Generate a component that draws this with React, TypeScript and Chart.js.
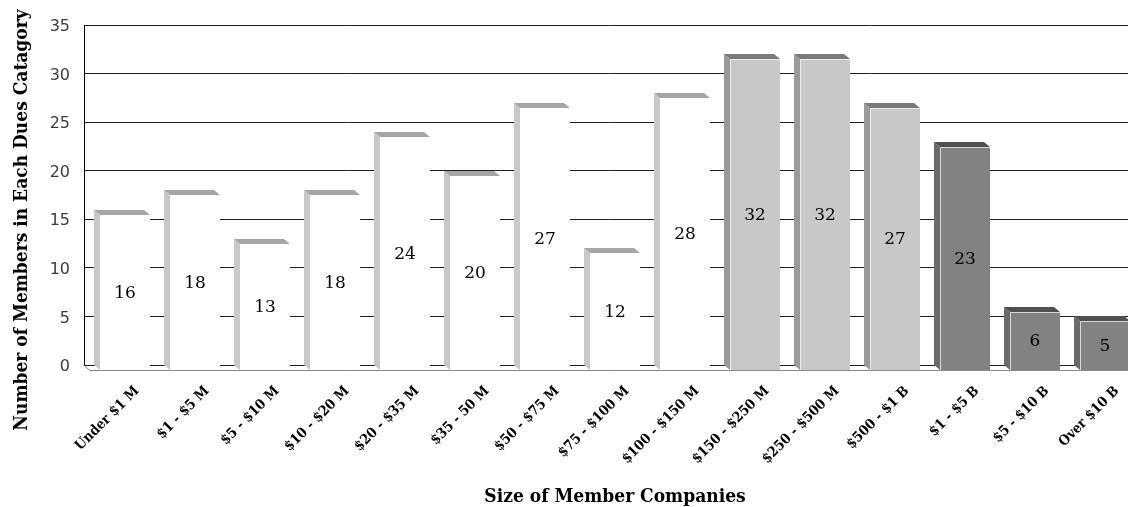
import React, { useEffect, useRef } from 'react';
import { Chart, registerables } from 'chart.js';
Chart.register(...registerables);

// ---- data ----
const categories = [
  'Under $1 M', '$1 - $5 M', '$5 - $10 M', '$10 - $20 M', '$20 - $35 M',
  '$35 - 50 M', '$50 - $75 M', '$75 - $100 M', '$100 - $150 M', '$150 - $250 M',
  '$250 - $500 M', '$500 - $1 B', '$1 - $5 B', '$5 - $10 B', 'Over $10 B',
];
const members = [16, 18, 13, 18, 24, 20, 27, 12, 28, 32, 32, 27, 23, 6, 5];
// size tier of each category: 0 = under $150 M, 1 = $150 M - $1 B, 2 = over $1 B
const tiers = [0, 0, 0, 0, 0, 0, 0, 0, 0, 1, 1, 1, 2, 2, 2];
const yMin = 0;
const yMax = 35;
const yStep = 5;
const xTitle = 'Size of Member Companies';
const yTitle = 'Number of Members in Each Dues Catagory';

// ---- styles ----
const palette = [
  { front: '#ffffff', side: '#c8c8c8', top: '#a6a6a6', edge: null },
  { front: '#c8c8c8', side: '#9a9a9a', top: '#7a7a7a', edge: '#ececec' },
  { front: '#828282', side: '#6a6a6a', top: '#505050', edge: '#d8d8d8' },
];
const DX = 6;
const DY = 5;
const CANVAS_W = 1134; // plot runs a little past the visible 1128px window, as in the source image
const CANVAS_H = 507;
const TITLE_FONT = 'bold 19px "DejaVu Serif Condensed", "DejaVu Serif", serif';
const TICK_FAMILY = '"DejaVu Serif Condensed", "DejaVu Serif", serif';

const bars3d = {
  id: 'bars3d',
  beforeDatasetsDraw(chart: any) {
    const { ctx, chartArea: a } = chart;
    const y0 = Math.round(chart.scales.y.getPixelForValue(0)) + 0.5;
    ctx.save();
    ctx.strokeStyle = '#8a8a8a';
    ctx.lineWidth = 1;
    ctx.beginPath();
    ctx.moveTo(a.left, y0);
    ctx.lineTo(a.left + DX, y0 + DY);
    ctx.lineTo(a.right + DX, y0 + DY);
    ctx.stroke();
    ctx.restore();
  },
  afterDatasetsDraw(chart: any) {
    const { ctx } = chart;
    const meta = chart.getDatasetMeta(0);
    ctx.save();
    meta.data.forEach((el: any, i: number) => {
      const p = el.getProps(['x', 'y', 'base', 'width'], true);
      const c = palette[tiers[i]];
      const l = Math.round(p.x - p.width / 2);
      const r = Math.round(p.x + p.width / 2);
      const t = Math.round(p.y);
      const b = Math.round(p.base);
      // side face
      ctx.fillStyle = c.side;
      ctx.beginPath();
      ctx.moveTo(l, t);
      ctx.lineTo(l + DX, t + DY);
      ctx.lineTo(l + DX, b + DY);
      ctx.lineTo(l, b);
      ctx.closePath();
      ctx.fill();
      // top face
      ctx.fillStyle = c.top;
      ctx.beginPath();
      ctx.moveTo(l, t);
      ctx.lineTo(r, t);
      ctx.lineTo(r + DX, t + DY);
      ctx.lineTo(l + DX, t + DY);
      ctx.closePath();
      ctx.fill();
      // front face
      ctx.fillStyle = c.front;
      ctx.fillRect(l + DX, t + DY, r - l, b - t);
      if (c.edge) {
        ctx.strokeStyle = c.edge;
        ctx.lineWidth = 1;
        ctx.beginPath();
        ctx.moveTo(l + DX + 0.5, b + DY);
        ctx.lineTo(l + DX + 0.5, t + DY + 0.5);
        ctx.lineTo(r + DX, t + DY + 0.5);
        ctx.stroke();
      }
      // value label
      ctx.fillStyle = '#000';
      ctx.font = '17px "DejaVu Serif", serif';
      ctx.textAlign = 'center';
      ctx.textBaseline = 'middle';
      ctx.fillText(String(members[i]), l + DX + (r - l) / 2, (t + b) / 2 + DY + 1);
    });
    ctx.restore();
  },
  afterDraw(chart: any) {
    const { ctx, chartArea: a } = chart;
    ctx.save();
    ctx.fillStyle = '#000';
    ctx.font = TITLE_FONT;
    ctx.textAlign = 'center';
    ctx.textBaseline = 'alphabetic';
    ctx.fillText(xTitle, (a.left + a.right) / 2 + 6, chart.height - 5);
    ctx.translate(26.5, 220);
    ctx.rotate(-Math.PI / 2);
    ctx.fillText(yTitle, 0, 0);
    ctx.restore();
  },
};

export default function App() {
  const ref = useRef<HTMLCanvasElement | null>(null);
  useEffect(() => {
    if (!ref.current) return;
    const chart = new Chart(ref.current, {
      type: 'bar',
      data: {
        labels: categories,
        datasets: [
          {
            data: members,
            backgroundColor: 'rgba(0,0,0,0)',
            borderWidth: 0,
            barPercentage: 50 / 70,
            categoryPercentage: 1,
          },
        ],
      },
      options: {
        animation: false,
        responsive: false,
        devicePixelRatio: 1,
        events: [],
        layout: { padding: { top: 25, right: 0, left: 0, bottom: 0 } },
        plugins: { legend: { display: false }, tooltip: { enabled: false }, title: { display: false } },
        scales: {
          x: {
            grid: { display: false },
            border: { display: false },
            ticks: {
              autoSkip: false,
              minRotation: 45,
              maxRotation: 45,
              padding: 10,
              labelOffset: 18,
              color: '#000',
              font: { family: TICK_FAMILY, size: 14, weight: 'bold' },
            },
            afterFit: (s: any) => { s.height = 142; },
          },
          y: {
            min: yMin,
            max: yMax,
            grid: { color: '#1e1e1e', lineWidth: 1, drawTicks: false },
            border: { display: true, color: '#000', width: 1 },
            ticks: {
              stepSize: yStep,
              padding: 14,
              labelOffset: 2,
              color: '#3a3a3a',
              font: { family: '"DejaVu Sans", sans-serif', size: 16 },
            },
            afterFit: (s: any) => { s.width = 84; },
          },
        },
      },
      plugins: [bars3d],
    });
    return () => chart.destroy();
  }, []);
  return (
    <div style={{ position: 'fixed', left: 0, top: 0, width: 1128, height: 507, overflow: 'hidden', background: '#fff' }}>
      <canvas ref={ref} width={CANVAS_W} height={CANVAS_H} style={{ width: CANVAS_W, height: CANVAS_H, display: 'block' }} />
    </div>
  );
}
